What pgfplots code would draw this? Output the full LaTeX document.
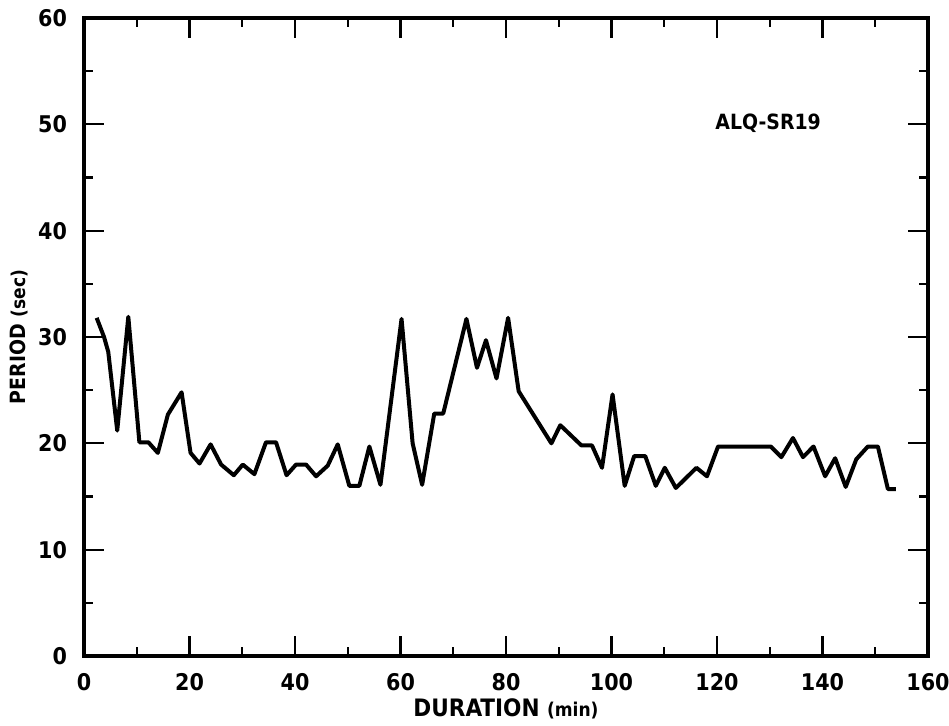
\documentclass[border=0pt]{standalone}
\usepackage{fontspec}
\setmainfont{DejaVu Sans Condensed}
\usepackage{pgfplots}
\pgfplotsset{compat=1.18}
\begin{document}
\begin{tikzpicture}
\begin{axis}[
  name=ax,
  scale only axis,
  width=422pt, height=319pt,
  xmin=0, xmax=160, ymin=0, ymax=60,
  xtick={0,20,...,160}, minor xtick={10,30,...,150},
  ytick={0,10,...,60}, minor ytick={5,15,...,55},
  tick align=inside,
  major tick length=10pt, minor tick length=4.5pt,
  every tick/.style={black, line width=1.1pt},
  axis line style={line width=1.7pt},
  /pgf/number format/assume math mode=true,
  ticklabel style={font=\bfseries\fontsize{11.5}{13}\selectfont},
  xticklabel style={yshift=-5pt},
  yticklabel style={xshift=-5pt},
  xlabel={\bfseries\fontsize{12}{14}\selectfont DURATION \fontsize{9.5}{11}\selectfont (min)},
  ylabel={\bfseries\fontsize{10.5}{12}\selectfont PERIOD \fontsize{9.5}{11}\selectfont (sec)},
  xlabel style={yshift=2.5pt},
  ylabel style={yshift=-2pt},
]
\addplot[black, line width=2pt, line join=round] coordinates {
(2.4,31.8)(3.8,30.0)(4.6,28.6)(6.3,21.2)(8.4,31.9)(10.5,20.1)(12.2,20.1)(14.0,19.1)(15.9,22.7)(18.5,24.8)(20.2,19.1)(21.9,18.1)(24.0,19.9)(26.0,18.0)(28.4,17.0)(30.1,18.0)(32.3,17.1)(34.5,20.1)(36.4,20.1)(38.4,17.0)(40.2,18.0)(42.1,18.0)(44.0,16.9)(46.2,17.9)(48.1,19.9)(50.3,16.0)(52.2,16.0)(54.1,19.7)(56.2,16.1)(60.2,31.7)(62.3,20.0)(64.1,16.1)(66.4,22.8)(68.1,22.8)(72.5,31.7)(74.5,27.1)(76.2,29.7)(78.2,26.1)(80.4,31.8)(82.4,24.9)(88.6,20.0)(90.3,21.7)(94.3,19.8)(96.3,19.8)(98.2,17.7)(100.2,24.6)(102.5,16.0)(104.3,18.8)(106.4,18.8)(108.4,16.0)(110.1,17.7)(112.2,15.8)(116.1,17.7)(118.1,16.9)(120.2,19.7)(130.2,19.7)(132.2,18.7)(134.4,20.5)(136.3,18.7)(138.3,19.7)(140.5,16.9)(142.4,18.6)(144.4,15.9)(146.4,18.5)(148.6,19.7)(150.5,19.7)(152.4,15.7)(153.9,15.7)
};
\node[font=\bfseries\fontsize{10.5}{12}\selectfont] at (axis cs:129.7,50.1) {ALQ-SR19};
\end{axis}
\pgfresetboundingbox
\path ([xshift=-42pt,yshift=-35pt]ax.south west) rectangle ([xshift=10.5pt,yshift=9pt]ax.north east);
\end{tikzpicture}
\end{document}
